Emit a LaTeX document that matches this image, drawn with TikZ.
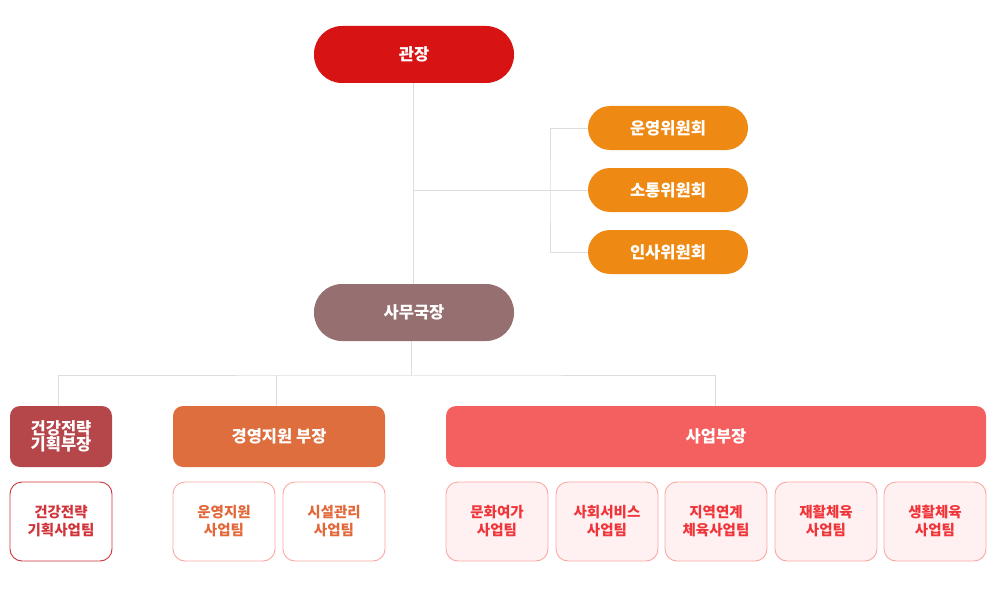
\documentclass[tikz,border=0pt]{standalone}
\usepackage{fontspec}
\setmainfont{Noto Sans CJK KR}
\begin{document}
\begin{tikzpicture}[x=1pt,y=-1pt,
  base/.style={inner sep=0pt, outer sep=0pt, align=center, font=\bfseries\fontsize{16.5}{17}\selectfont, text=white},
  pill/.style={base, minimum width=200pt, minimum height=57pt, rounded corners=28pt},
  comm/.style={base, fill=cOrange, minimum width=160pt, minimum height=44pt, rounded corners=22pt},
  dept/.style={base, minimum height=61pt, rounded corners=10pt},
  team/.style={base, minimum width=102pt, minimum height=79pt, rounded corners=12pt, line width=0.9pt, font=\bfseries\fontsize{14.5}{18}\selectfont},
  conn/.style={draw=cLine, line width=0.9pt}
]
\definecolor{cRed}{HTML}{D71313}
\definecolor{cOrange}{HTML}{EE8A14}
\definecolor{cBrown}{HTML}{967070}
\definecolor{cDeptA}{HTML}{B5464A}
\definecolor{cDeptB}{HTML}{DE6E3E}
\definecolor{cDeptC}{HTML}{F45F5F}
\definecolor{cLine}{HTML}{DDDDDD}
\definecolor{cTeamA}{HTML}{D0343A}
\definecolor{cTeamB}{HTML}{E2683A}
\definecolor{cPinkBorder}{HTML}{F9A8A4}
\definecolor{cPinkFill}{HTML}{FFF1F1}
\definecolor{cTeamC}{HTML}{F0353A}
\useasboundingbox (0,0) rectangle (994,602);

% top level
\node[pill, fill=cRed] (gwan) at (414,54.5) {관장};
\node[comm] (c1) at (668,128) {운영위원회};
\node[comm] (c2) at (668,190) {소통위원회};
\node[comm] (c3) at (668,252) {인사위원회};
\node[pill, fill=cBrown] (sam) at (414,312.5) {사무국장};

% departments
\node[dept, fill=cDeptA, minimum width=102pt] (d1) at (61,436.5) {건강전략\\[-1pt]기획부장};
\node[dept, fill=cDeptB, minimum width=212pt] (d2) at (279,436.5) {경영지원 부장};
\node[dept, fill=cDeptC, minimum width=540pt] (d3) at (716,436.5) {사업부장};

% teams
\node[team, draw=cTeamA, fill=white, text=cTeamA] (t1) at (61,521.5) {건강전략\\기획사업팀};
\node[team, draw=cPinkBorder, fill=white, text=cTeamB] (t2) at (224,521.5) {운영지원\\사업팀};
\node[team, draw=cPinkBorder, fill=white, text=cTeamB] (t3) at (334,521.5) {시설관리\\사업팀};
\node[team, draw=cPinkBorder, fill=cPinkFill, text=cTeamC] (t4) at (497,521.5) {문화여가\\사업팀};
\node[team, draw=cPinkBorder, fill=cPinkFill, text=cTeamC] (t5) at (607,521.5) {사회서비스\\사업팀};
\node[team, draw=cPinkBorder, fill=cPinkFill, text=cTeamC] (t6) at (716,521.5) {지역연계\\체육사업팀};
\node[team, draw=cPinkBorder, fill=cPinkFill, text=cTeamC] (t7) at (826,521.5) {재활체육\\사업팀};
\node[team, draw=cPinkBorder, fill=cPinkFill, text=cTeamC] (t8) at (935,521.5) {생활체육\\사업팀};

% connectors: top
\draw[conn] ([xshift=-1pt]gwan.south) -- ([xshift=-1pt]sam.north);
\coordinate (cmid) at (413,190);
\coordinate (cbus) at (550,190);
\draw[conn] (cmid) -- (c2.west);
\draw[conn] (c1.west) -| (cbus) |- (c3.west);

% connectors: departments
\coordinate (dj) at (411,375);
\draw[conn] ([xshift=-3pt]sam.south) -- (dj);
\draw[conn] ([xshift=-3pt]d1.north) |- (dj) -| ([xshift=-1pt]d3.north);
\draw[conn] ([xshift=-3pt]d2.north) -- ([xshift=-3pt]d2.north |- dj);
\end{tikzpicture}
\end{document}
